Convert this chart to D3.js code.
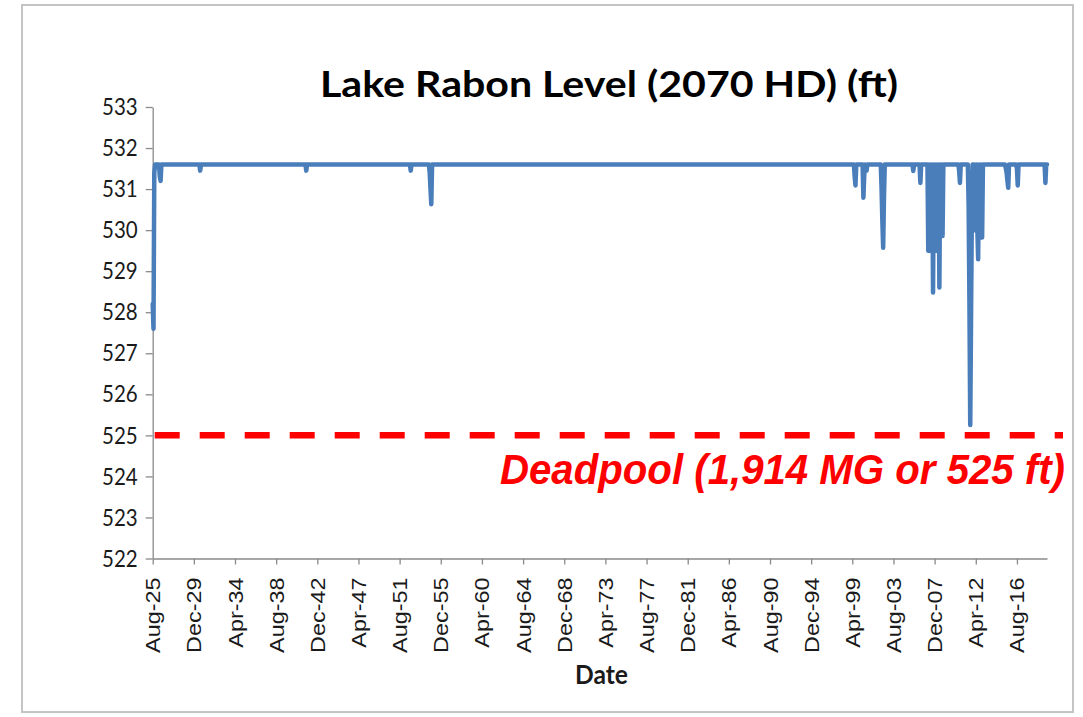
<!DOCTYPE html>
<html lang="en">
<head>
  <meta charset="UTF-8">
  <title>Lake Rabon Level (2070 HD)</title>
  <style>
    body { margin: 0; background: #ffffff; }
    svg { display: block; }
    .axis path, .axis line { stroke: #8a8a8a; stroke-width: 1.3px; }
  </style>
</head>
<body>
<div id="chart"></div>

<script src="https://cdn.jsdelivr.net/npm/d3@7"></script>
<script>
  // monthly lake level (ft), only the months where the level leaves full pool
  const dates = [
    "1925-08", "1925-09", "1925-10", "1925-11", "1926-04", "1926-05", "1926-06", "1926-07",
    "1930-07", "1930-08", "1930-09", "1941-09", "1941-10", "1941-11",
    "1952-09", "1952-10", "1952-11", "1954-09", "1954-10", "1954-11", "1954-12", "1955-01",
    "1999-06", "1999-07", "1999-08", "1999-09", "2000-05", "2000-06", "2000-07", "2000-08",
    "2000-10", "2000-11", "2002-04", "2002-05", "2002-06", "2002-07", "2002-08", "2002-09",
    "2005-08", "2005-09", "2005-10", "2006-05", "2006-06", "2006-07",
    "2007-03", "2007-04", "2007-05", "2007-06", "2007-07", "2007-08", "2007-09", "2007-10",
    "2007-11", "2007-12", "2008-01", "2008-02", "2008-03", "2008-04", "2008-05", "2008-06",
    "2008-07", "2008-08", "2008-09", "2008-10", "2008-11",
    "2010-06", "2010-07", "2010-08", "2010-09",
    "2011-06", "2011-07", "2011-08", "2011-09", "2011-10", "2011-11", "2011-12",
    "2012-01", "2012-02", "2012-03", "2012-04", "2012-05", "2012-06", "2012-07", "2012-08",
    "2012-09", "2012-10", "2012-11", "2012-12", "2013-01",
    "2015-05", "2015-06", "2015-07", "2015-08", "2015-09", "2015-10",
    "2016-07", "2016-08", "2016-09", "2016-10",
    "2019-07", "2019-08", "2019-09", "2019-10"
  ];
  const levels = [
    528.2, 527.6, 531.4, 531.6, 531.6, 531.3, 531.2, 531.6,
    531.6, 531.45, 531.6, 531.6, 531.45, 531.6,
    531.6, 531.45, 531.6, 531.6, 531.4, 531.0, 530.63, 531.6,
    531.6, 531.3, 531.09, 531.6, 531.6, 530.79, 531.3, 531.6,
    531.45, 531.6, 531.6, 531.0, 530.2, 529.57, 530.8, 531.6,
    531.6, 531.44, 531.6, 531.6, 531.15, 531.6,
    531.6, 529.5, 531.6, 529.6, 531.6, 529.5, 531.6, 528.48,
    531.6, 529.5, 531.6, 529.5, 531.6, 529.6, 531.6, 528.6,
    531.6, 529.86, 531.6, 529.86, 531.6,
    531.6, 531.45, 531.15, 531.6,
    531.6, 530.6, 528.2, 525.25, 527.8, 530.3, 531.6,
    531.6, 530.0, 531.6, 530.0, 531.6, 530.0, 529.29, 531.6,
    530.0, 531.6, 530.0, 529.82, 531.6,
    531.6, 531.5, 531.4, 531.2, 531.03, 531.6,
    531.6, 531.5, 531.09, 531.6,
    531.6, 531.15, 531.6, 531.6
  ];

  const tickDates = [
    "1925-08", "1929-12", "1934-04", "1938-08", "1942-12", "1947-04", "1951-08", "1955-12",
    "1960-04", "1964-08", "1968-12", "1973-04", "1977-08", "1981-12", "1986-04", "1990-08",
    "1994-12", "1999-04", "2003-08", "2007-12", "2012-04", "2016-08"
  ];
  const yTicks = [522, 523, 524, 525, 526, 527, 528, 529, 530, 531, 532, 533];
  const deadpool = 525;

  const width = 1083;
  const height = 717;
  const stretch = 1.17; // the source picture is taller than wide, text too

  const parseMonth = d3.timeParse("%Y-%m");
  const data = dates.map((d, i) => ({ date: parseMonth(d), level: levels[i] }));

  const svg = d3.select("#chart")
    .append("svg")
    .attr("width", width)
    .attr("height", height);

  // chart frame
  svg.append("rect")
    .attr("x", 22)
    .attr("y", 5)
    .attr("width", 1051)
    .attr("height", 707)
    .attr("fill", "#ffffff")
    .attr("stroke", "#c4c4c4")
    .attr("stroke-width", 2);

  const x = d3.scaleTime()
    .domain([parseMonth("1925-08"), parseMonth("2019-10")])
    .range([152.7, 1047]);

  const y = d3.scaleLinear()
    .domain([522, 533])
    .range([558.5, 107]);

  // y axis
  const yAxis = svg.append("g")
    .attr("class", "axis")
    .attr("transform", `translate(${x.range()[0]},0)`)
    .call(d3.axisLeft(y).tickValues(yTicks).tickSize(7).tickPadding(8).tickSizeOuter(0));

  yAxis.selectAll("text")
    .attr("fill", "#1a1a1a")
    .style("font-family", "Lato, sans-serif")
    .style("font-size", "20.5px")
    .attr("transform", `scale(1,${stretch})`);

  // x axis
  const xAxis = svg.append("g")
    .attr("class", "axis")
    .attr("transform", `translate(0,${y.range()[0]})`)
    .call(d3.axisBottom(x)
      .tickValues(tickDates.map(parseMonth))
      .tickFormat(d3.timeFormat("%b-%y"))
      .tickSize(6)
      .tickSizeOuter(0));

  xAxis.selectAll("text")
    .attr("x", 0)
    .attr("y", 0)
    .attr("dy", "0.35em")
    .attr("text-anchor", "end")
    .attr("fill", "#1a1a1a")
    .style("font-family", "'Liberation Sans', Arial, sans-serif")
    .style("font-size", "20px")
    .attr("transform", `translate(0,19) rotate(-90) scale(${stretch},1)`);

  // deadpool line
  svg.append("line")
    .attr("x1", x.range()[0] + 2)
    .attr("x2", 1063)
    .attr("y1", y(deadpool))
    .attr("y2", y(deadpool))
    .attr("stroke", "#ff0000")
    .attr("stroke-width", 6.5)
    .attr("stroke-dasharray", "25,20");

  // lake level line
  const line = d3.line()
    .x(d => x(d.date))
    .y(d => y(d.level));

  svg.append("path")
    .datum(data)
    .attr("fill", "none")
    .attr("stroke", "#4a7ebb")
    .attr("stroke-width", 4.5)
    .attr("stroke-linejoin", "round")
    .attr("stroke-linecap", "round")
    .attr("d", line);

  // title
  svg.append("text")
    .attr("transform", `translate(320,97) scale(1,${stretch})`)
    .attr("textLength", 578)
    .attr("lengthAdjust", "spacingAndGlyphs")
    .style("font-family", "Lato, sans-serif")
    .style("font-weight", "bold")
    .style("font-size", "31px")
    .attr("fill", "#000000")
    .text("Lake Rabon Level (2070 HD) (ft)");

  // x axis title
  svg.append("text")
    .attr("transform", `translate(575,684) scale(1,${stretch})`)
    .attr("textLength", 53)
    .attr("lengthAdjust", "spacingAndGlyphs")
    .style("font-family", "Lato, sans-serif")
    .style("font-weight", "bold")
    .style("font-size", "22px")
    .attr("fill", "#1a1a1a")
    .text("Date");

  // deadpool label
  svg.append("text")
    .attr("transform", `translate(500,484) scale(1,${stretch})`)
    .attr("textLength", 565)
    .attr("lengthAdjust", "spacingAndGlyphs")
    .style("font-family", "'Liberation Sans', Arial, sans-serif")
    .style("font-weight", "bold")
    .style("font-style", "italic")
    .style("font-size", "36px")
    .attr("fill", "#ff0000")
    .text("Deadpool (1,914 MG or 525 ft)");
</script>
</body>
</html>
